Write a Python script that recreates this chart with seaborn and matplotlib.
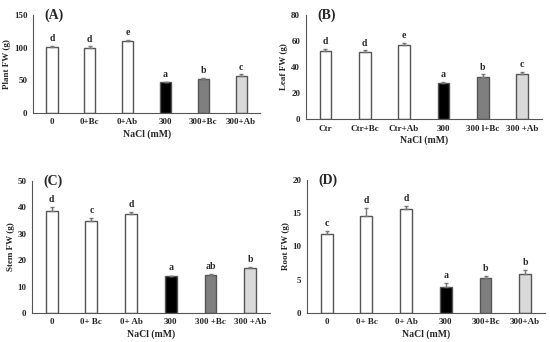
import numpy as np
import pandas as pd
import matplotlib
matplotlib.use('Agg')
import matplotlib.pyplot as plt
import seaborn as sns

# ---- data ----
labels_a = ['0', '0+Bc', '0+Ab', '300', '300+Bc', '300+Ab']
plant_fw = [101, 100, 110, 47, 52, 56]
plant_err = [2.0, 2.5, 2.0, 1.0, 2.0, 3.0]
plant_letters = ['d', 'd', 'e', 'a', 'b', 'c']

labels_b = ['Ctr', 'Ctr+Bc', 'Ctr+Ab', '300', '300 l+Bc', '300 +Ab']
leaf_fw = [52, 51.5, 57, 28, 32.5, 35]
leaf_err = [2.0, 1.5, 1.5, 0.5, 2.0, 1.5]
leaf_letters = ['d', 'd', 'e', 'a', 'b', 'c']

labels_c = ['0', '0+ Bc', '0+ Ab', '300', '300 +Bc', '300 +Ab']
stem_fw = [38.5, 34.7, 37.3, 13.8, 14.4, 17.0]
stem_err = [1.5, 1.2, 1.0, 0.3, 0.2, 0.4]
stem_letters = ['d', 'c', 'd', 'a', 'ab', 'b']

labels_d = ['0', '0+ Bc', '0+ Ab', '300', '300+Bc', '300+Ab']
root_fw = [11.8, 14.6, 15.6, 3.9, 5.3, 5.8]
root_err = [0.5, 1.1, 0.4, 0.6, 0.2, 0.6]
root_letters = ['c', 'd', 'd', 'a', 'b', 'b']

bar_colors = ['white', 'white', 'white', 'black', '#7f7f7f', '#d9d9d9']

sns.set_style('white')
plt.rcParams['font.family'] = ['Liberation Serif', 'DejaVu Serif']
plt.rcParams['font.weight'] = 'bold'


def draw_panel(ax, labels, values, errs, letters, ylabel, ymax, ystep, tag):
    df = pd.DataFrame({'group': labels, 'fw': values})
    sns.barplot(data=df, x='group', y='fw', hue='group', palette=bar_colors,
                order=labels, hue_order=labels, legend=False, width=0.3,
                edgecolor='#555555', linewidth=1.0, ax=ax)
    x = np.arange(len(labels))
    ax.errorbar(x, values, yerr=[np.zeros(len(errs)), errs], fmt='none',
                ecolor='#777777', elinewidth=1.0, capsize=1.5, capthick=1.0)
    for xi, v, e, t in zip(x, values, errs, letters):
        ax.text(xi, v + e + ymax * 0.025, t, ha='center', va='bottom',
                fontsize=7, fontweight='bold')
    ax.set_ylim(0, ymax)
    ax.set_xlim(-0.5, len(labels) - 0.5)
    ax.set_yticks(np.arange(0, ymax + 0.1, ystep))
    ax.set_ylabel(ylabel, fontsize=6.5, fontweight='bold', labelpad=2)
    ax.set_xlabel('NaCl (mM)', fontsize=7, fontweight='bold', labelpad=2)
    ax.set_xticks(x)
    ax.set_xticklabels(labels)
    ax.set_xticks(np.arange(-0.5, len(labels)), minor=True)
    ax.tick_params(axis='x', which='major', length=0, labelsize=6.5, pad=4)
    ax.tick_params(axis='x', which='minor', length=2, width=0.8,
                   color='#555555', direction='out')
    ax.tick_params(axis='y', length=2, width=0.8, labelsize=6.5, pad=2,
                   color='#555555', direction='out')
    for lab in ax.get_xticklabels() + ax.get_yticklabels():
        lab.set_fontweight('bold')
    sns.despine(ax=ax)
    for side in ['left', 'bottom']:
        ax.spines[side].set_color('#555555')
        ax.spines[side].set_linewidth(0.8)
    ax.text(0.05, 1.0, tag, transform=ax.transAxes, ha='left', va='center',
            fontsize=10, fontweight='bold')


fig = plt.figure(figsize=(5.5, 3.42), dpi=100)
ax_a = fig.add_axes([0.060, 0.670, 0.413, 0.286])
ax_b = fig.add_axes([0.556, 0.652, 0.429, 0.304])
ax_c = fig.add_axes([0.058, 0.085, 0.433, 0.386])
ax_d = fig.add_axes([0.558, 0.085, 0.433, 0.389])

draw_panel(ax_a, labels_a, plant_fw, plant_err, plant_letters,
           'Plant FW (g)', 150, 50, '(A)')
draw_panel(ax_b, labels_b, leaf_fw, leaf_err, leaf_letters,
           'Leaf FW (g)', 80, 20, '(B)')
draw_panel(ax_c, labels_c, stem_fw, stem_err, stem_letters,
           'Stem FW (g)', 50, 10, '(C)')
draw_panel(ax_d, labels_d, root_fw, root_err, root_letters,
           'Root FW (g)', 20, 5, '(D)')

fig.savefig('out.png', dpi=100)
